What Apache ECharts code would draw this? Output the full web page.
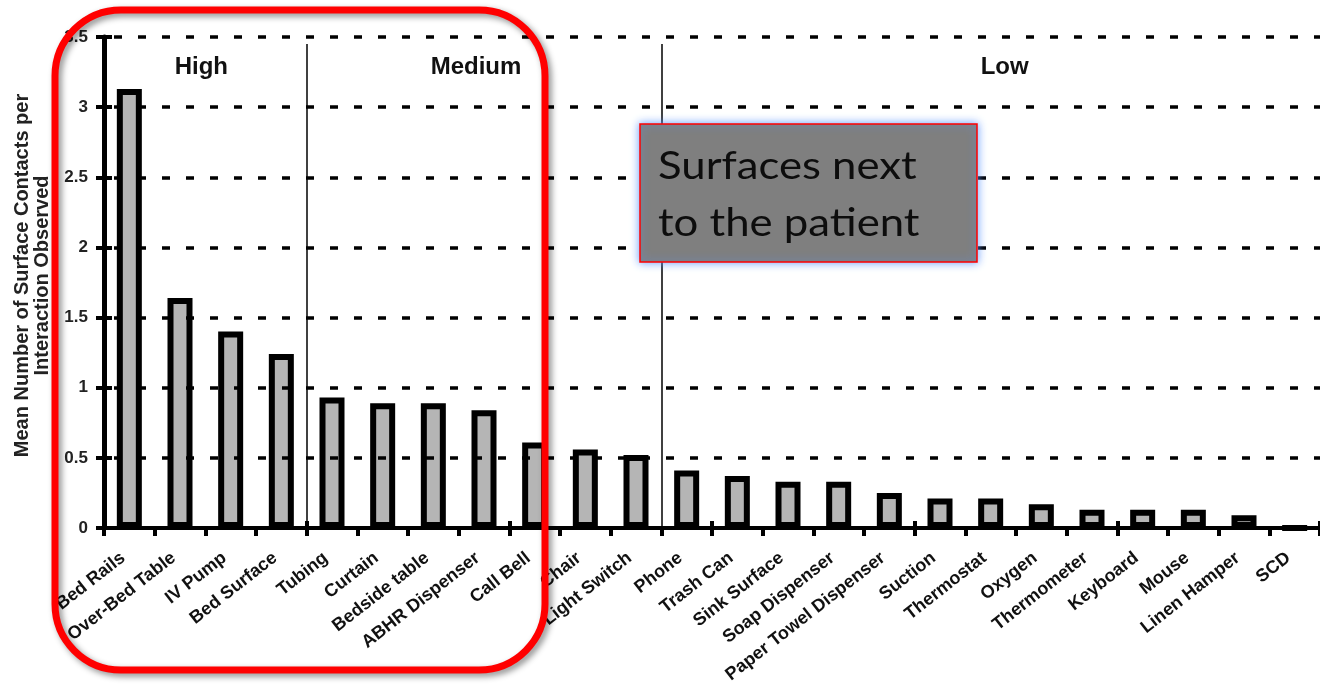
<!DOCTYPE html>
<html>
<head>
<meta charset="utf-8">
<script src="https://cdn.jsdelivr.net/npm/echarts@6/dist/echarts.min.js"></script>
<style>
html,body{margin:0;padding:0;background:#fff;}
#chart{width:1320px;height:698px;}
</style>
</head>
<body>
<div id="chart"></div>
<script>
var categories = ['Bed Rails','Over-Bed Table','IV Pump','Bed Surface','Tubing','Curtain','Bedside table','ABHR Dispenser','Call Bell','Chair','Light Switch','Phone','Trash Can','Sink Surface','Soap Dispenser','Paper Towel Dispenser','Suction','Thermostat','Oxygen','Thermometer','Keyboard','Mouse','Linen Hamper','SCD'];
var contacts = [3.13,1.64,1.40,1.24,0.93,0.89,0.89,0.84,0.61,0.56,0.52,0.41,0.37,0.33,0.33,0.25,0.21,0.21,0.17,0.13,0.13,0.13,0.09,0];
var yTicks = ['0','0.5','1','1.5','2','2.5','3','3.5'];
var zoneNames = ['High','Medium','Low'];
var zoneBounds = [0,4,11,24];
var yAxisTitle = 'Mean Number of Surface Contacts per\nInteraction Observed';
var calloutText = 'Surfaces next\nto the patient';

var chart = echarts.init(document.getElementById('chart'));
var font = 'Liberation Sans, Arial, sans-serif';
var zoneOffsets = [[-4,0],[-8,0],[14,0]];
var areas = zoneNames.map(function(n,i){
  return [{xAxis: zoneBounds[i], yAxis: 3.5, name: n, label:{offset: zoneOffsets[i]}},
          {xAxis: zoneBounds[i+1], yAxis: 3.07}];
});
var sepLines = [zoneBounds[1], zoneBounds[2]].map(function(b){
  return [{coord:[b, 3.45]}, {coord:[b, 0]}];
});
var yFmt = function(v){ return yTicks[Math.round(v/0.5)]; };

chart.setOption({
  animation: false,
  backgroundColor: '#fff',
  grid: {left: 104, right: 0, top: 37, bottom: 170, containLabel: false},
  xAxis: [{
    type: 'category',
    data: categories,
    axisLine: {lineStyle: {color: '#000', width: 4}},
    axisTick: {show: true, length: 8, lineStyle: {color: '#000', width: 4}},
    axisLabel: {rotate: 38, margin: 23, padding: [0, 8, 0, 0], color: '#111', fontFamily: font, fontWeight: 'bold', fontSize: 18, interval: 0},
    splitLine: {show: false},
    z: 5
  },{
    type: 'value', min: 0, max: 24, show: false
  },{
    type: 'category',
    data: categories,
    position: 'bottom',
    axisLine: {show: false},
    axisTick: {show: true, inside: true, length: 7, lineStyle: {color: '#000', width: 4}},
    axisLabel: {show: false},
    splitLine: {show: false},
    z: 5
  }],
  yAxis: [{
    type: 'value', min: 0, max: 3.5, interval: 0.5,
    name: yAxisTitle,
    nameLocation: 'middle',
    nameGap: 52,
    nameTextStyle: {color: '#222', fontFamily: font, fontWeight: 'bold', fontSize: 20, lineHeight: 20, padding: [0, 0, 0, 14]},
    axisLine: {show: true, lineStyle: {color: '#000', width: 5}},
    axisTick: {show: true, length: 8, lineStyle: {color: '#000', width: 4}},
    axisLabel: {color: '#222', fontFamily: font, fontWeight: 'bold', fontSize: 17, margin: 16, formatter: yFmt},
    splitLine: {show: true, lineStyle: {color: '#000', width: 3.5, type: [8, 16], dashOffset: -10}},
    z: 5
  },{
    type: 'value', min: 0, max: 3.5, interval: 0.5,
    position: 'left',
    axisLine: {show: false},
    axisTick: {show: true, inside: true, length: 8, lineStyle: {color: '#000', width: 4}},
    axisLabel: {show: false},
    splitLine: {show: false},
    z: 5
  }],
  series: [{
    type: 'bar',
    data: contacts,
    barWidth: 25,
    itemStyle: {color: '#b5b5b5', borderColor: '#000', borderWidth: 6},
    z: 3
  },{
    type: 'line',
    xAxisIndex: 1,
    data: [],
    silent: true,
    markLine: {
      symbol: ['none','none'],
      silent: true,
      label: {show: false},
      lineStyle: {color: '#000', width: 1.5, type: 'solid'},
      data: sepLines
    },
    markArea: {
      silent: true,
      itemStyle: {color: 'rgba(0,0,0,0)'},
      label: {show: true, position: 'inside', color: '#111', fontFamily: font, fontWeight: 'bold', fontSize: 24},
      data: areas
    }
  }],
  graphic: [{
    type: 'rect',
    shape: {x: 55, y: 10, width: 490, height: 660, r: 66},
    style: {fill: 'none', stroke: '#ff0000', lineWidth: 7, shadowBlur: 6, shadowOffsetX: 3, shadowOffsetY: 3, shadowColor: 'rgba(0,0,0,0.45)'},
    z: 100
  },{
    type: 'rect',
    shape: {x: 640, y: 124, width: 337, height: 138},
    style: {fill: '#7f7f7f', stroke: '#ff0000', lineWidth: 1.5, shadowBlur: 8, shadowColor: 'rgba(90,150,255,0.9)'},
    z: 100
  },{
    type: 'text',
    x: 658, y: 138,
    scaleX: 1.15,
    style: {text: calloutText, fill: '#0d0d0d', font: '38px Lato, "Open Sans", sans-serif', lineHeight: 57},
    z: 101
  }]
});
</script>
</body>
</html>
